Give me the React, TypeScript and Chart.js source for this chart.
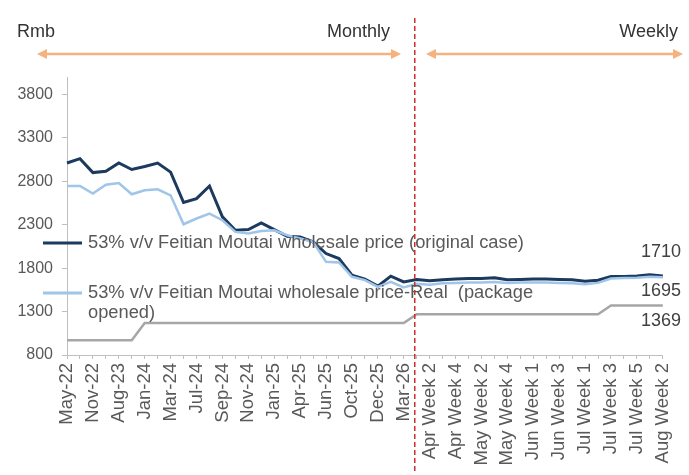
import { useEffect, useRef } from 'react'
import { Chart, registerables } from 'chart.js'

Chart.register(...registerables)

const categories = [
  'May-22', 'Aug-22', 'Nov-22', 'Mar-23', 'Aug-23', 'Nov-23', 'Jan-24', 'Feb-24', 'Mar-24', 'May-24',
  'Jul-24', 'Aug-24', 'Sep-24', 'Oct-24', 'Nov-24', 'Dec-24', 'Jan-25', 'Mar-25', 'Apr-25', 'May-25',
  'Jun-25', 'Aug-25', 'Oct-25', 'Nov-25', 'Dec-25', 'Feb-26', 'Mar-26',
  'Apr Week 1', 'Apr Week 2', 'Apr Week 3', 'Apr Week 4', 'May Week 1', 'May Week 2', 'May Week 3',
  'May Week 4', 'May Week 5', 'Jun Week 1', 'Jun Week 2', 'Jun Week 3', 'Jun Week 4', 'Jul Week 1',
  'Jul Week 2', 'Jul Week 3', 'Jul Week 4', 'Jul Week 5', 'Aug Week 1', 'Aug Week 2',
]

const originalCase = [
  3010, 3060, 2900, 2915, 3010, 2935, 2970, 3010, 2905, 2555,
  2600, 2745, 2390, 2236, 2244, 2320, 2244, 2167, 2159, 2102,
  1968, 1911, 1719, 1673, 1593, 1708, 1642,
  1670, 1655, 1665, 1675, 1680, 1680, 1690, 1665, 1670, 1675,
  1675, 1670, 1665, 1650, 1660, 1705, 1705, 1710, 1725, 1710,
]

const realOpened = [
  2745, 2745, 2658, 2760, 2780, 2650, 2696, 2707, 2638, 2305,
  2371, 2428, 2351, 2217, 2198, 2228, 2236, 2179, 2141, 2102,
  1872, 1865, 1700, 1662, 1585, 1642, 1578,
  1620, 1610, 1625, 1630, 1635, 1635, 1640, 1630, 1635, 1635,
  1635, 1630, 1625, 1615, 1630, 1680, 1685, 1690, 1700, 1695,
]

const exFactory = [
  969, 969, 969, 969, 969, 969, 1169, 1169, 1169, 1169,
  1169, 1169, 1169, 1169, 1169, 1169, 1169, 1169, 1169, 1169,
  1169, 1169, 1169, 1169, 1169, 1169, 1169,
  1269, 1269, 1269, 1269, 1269, 1269, 1269, 1269, 1269, 1269,
  1269, 1269, 1269, 1269, 1269, 1369, 1369, 1369, 1369, 1369,
]

const yTicks = [800, 1300, 1800, 2300, 2800, 3300, 3800]
const endLabels = ['1710', '1695', '1369']
const legendLabels = [
  ['53% v/v Feitian Moutai wholesale price (original case)'],
  ['53% v/v Feitian Moutai wholesale price-Real  (package', 'opened)'],
]

const FONT = '"Liberation Sans", Arial, sans-serif'
const DARK = '#1b3a5e'
const LIGHT = '#9fc5e8'
const GREY = '#a6a6a6'
const ORANGE = '#f5b27e'

function arrow(ctx: CanvasRenderingContext2D, x1: number, x2: number, y: number) {
  const head = 10
  ctx.strokeStyle = ORANGE
  ctx.fillStyle = ORANGE
  ctx.lineWidth = 2.5
  ctx.beginPath()
  ctx.moveTo(x1 + head, y)
  ctx.lineTo(x2 - head, y)
  ctx.stroke()
  ctx.beginPath()
  ctx.moveTo(x1, y)
  ctx.lineTo(x1 + head, y - 5)
  ctx.lineTo(x1 + head, y + 5)
  ctx.closePath()
  ctx.fill()
  ctx.beginPath()
  ctx.moveTo(x2, y)
  ctx.lineTo(x2 - head, y - 5)
  ctx.lineTo(x2 - head, y + 5)
  ctx.closePath()
  ctx.fill()
}

const annotations = {
  id: 'annotations',
  afterDraw(chart: Chart) {
    const ctx = chart.ctx
    const x = chart.scales.x
    ctx.save()

    // monthly / weekly split
    const splitX = x.getPixelForValue(26) + 0.85 * (x.getPixelForValue(27) - x.getPixelForValue(26))
    ctx.strokeStyle = '#c9302c'
    ctx.lineWidth = 1.5
    ctx.setLineDash([5, 3])
    ctx.beginPath()
    ctx.moveTo(splitX, 18)
    ctx.lineTo(splitX, 472)
    ctx.stroke()
    ctx.setLineDash([])

    ctx.font = `18px ${FONT}`
    ctx.fillStyle = '#333333'
    ctx.textBaseline = 'middle'
    ctx.textAlign = 'left'
    ctx.fillText('Rmb', 17, 32)
    ctx.textAlign = 'right'
    ctx.fillText('Monthly', 390, 32)
    ctx.fillText('Weekly', 678, 32)

    arrow(ctx, 37, 401, 54)
    arrow(ctx, 426, 683, 54)

    // legend
    const swatches = [DARK, LIGHT]
    const rows = [243, 293]
    ctx.font = `18.3px ${FONT}`
    ctx.textAlign = 'left'
    ctx.fillStyle = '#595959'
    swatches.forEach((c, i) => {
      ctx.strokeStyle = c
      ctx.lineWidth = 3
      ctx.beginPath()
      ctx.moveTo(43, rows[i])
      ctx.lineTo(82, rows[i])
      ctx.stroke()
      legendLabels[i].forEach((t, j) => ctx.fillText(t, 88, rows[i] + j * 20))
    })

    // end values
    const offsets = [-24, 14, 15]
    ctx.font = `18px ${FONT}`
    ctx.fillStyle = '#404040'
    ctx.textAlign = 'right'
    chart.data.datasets.forEach((ds, i) => {
      const meta = chart.getDatasetMeta(i)
      const pt = meta.data[meta.data.length - 1]
      ctx.fillText(endLabels[i], 681, pt.y + offsets[i])
    })
    ctx.restore()
  },
}

export default function App() {
  const canvasRef = useRef<HTMLCanvasElement>(null)

  useEffect(() => {
    document.body.style.margin = '0'
    if (!canvasRef.current) return
    const chart = new Chart(canvasRef.current, {
      type: 'line',
      data: {
        labels: categories,
        datasets: [
          { data: originalCase, borderColor: DARK, borderWidth: 3 },
          { data: realOpened, borderColor: LIGHT, borderWidth: 2.5 },
          { data: exFactory, borderColor: GREY, borderWidth: 2.5 },
        ].map((d, i) => ({ ...d, pointRadius: 0, tension: 0, fill: false, order: 2 - i })),
      },
      options: {
        responsive: false,
        animation: false,
        layout: { padding: { top: 77, right: 16, left: 0, bottom: 0 } },
        plugins: { legend: { display: false }, tooltip: { enabled: false } },
        scales: {
          x: {
            offset: false,
            grid: { drawOnChartArea: false, tickLength: 4, color: '#bfbfbf' },
            border: { color: '#bfbfbf' },
            ticks: {
              autoSkip: false,
              minRotation: 90,
              maxRotation: 90,
              padding: 4,
              color: '#595959',
              font: { family: FONT, size: 18.5 },
              callback: (_v: any, i: number) => (i % 2 === 0 ? categories[i] : ''),
            },
            afterFit: (s: any) => { s.height = 120 },
          },
          y: {
            min: 800,
            max: 4000,
            grid: { drawOnChartArea: false, tickLength: 5, color: '#bfbfbf' },
            border: { color: '#bfbfbf' },
            ticks: {
              color: '#595959',
              padding: 9,
              font: { family: FONT, size: 16 },
              callback: (v: any) => String(v),
            },
            afterBuildTicks: (s: any) => { s.ticks = yTicks.map((v) => ({ value: v })) },
            afterFit: (s: any) => { s.width = 67 },
          },
        },
      },
      plugins: [annotations],
    })
    return () => chart.destroy()
  }, [])

  return (
    <div style={{ width: 689, height: 475, background: '#fff' }}>
      <canvas ref={canvasRef} width={689} height={475} />
    </div>
  )
}
